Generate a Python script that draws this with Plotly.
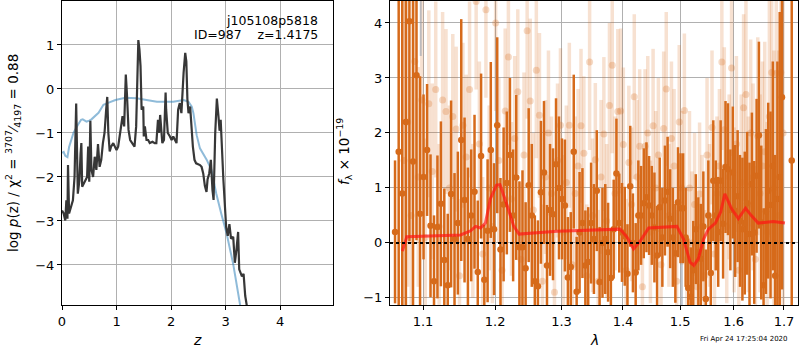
import plotly.graph_objects as go

# ---------------- left panel: p(z) ----------------
pz_z = [0.0, 0.03, 0.06, 0.08, 0.10, 0.11, 0.13, 0.17, 0.20, 0.23, 0.26, 0.29, 0.32, 0.34, 0.355, 0.37,
        0.42, 0.46, 0.48, 0.50, 0.52, 0.54, 0.57, 0.60, 0.63, 0.66, 0.69, 0.72, 0.75, 0.78, 0.81, 0.83,
        0.85, 0.875, 0.90, 0.94, 0.97, 1.00, 1.03, 1.06, 1.09, 1.11, 1.14, 1.16, 1.17, 1.19, 1.22, 1.25,
        1.30, 1.33, 1.36, 1.39, 1.40, 1.42, 1.44, 1.46, 1.49, 1.50, 1.52, 1.55, 1.58, 1.61, 1.66, 1.70,
        1.73, 1.76, 1.78, 1.80, 1.82, 1.84, 1.87, 1.90, 1.91, 1.94, 1.98, 2.01, 2.04, 2.07, 2.10, 2.13,
        2.16, 2.19, 2.21, 2.23, 2.26, 2.28, 2.30, 2.32, 2.35, 2.37, 2.40, 2.43, 2.46, 2.53, 2.56, 2.59,
        2.62, 2.65, 2.67, 2.70, 2.73, 2.76, 2.78, 2.81, 2.84, 2.87, 2.89, 2.91, 2.94, 2.96, 3.01, 3.04,
        3.07, 3.10, 3.14, 3.17, 3.20, 3.23, 3.25, 3.30, 3.33, 3.36, 3.39, 3.42]
pz_logp = [-2.76, -2.83, -2.99, -2.53, -2.95, -1.73, -2.83, -2.68, -2.53, -2.0, -0.33, -2.38, -2.07, -1.48, -1.23, -2.22,
           -2.11, -2.0, -1.31, -2.11, -0.72, -1.84, -2.0, -1.54, -1.84, -1.25, -1.77, -1.61, -1.23, -1.0, -0.47, -0.18,
           -1.0, -1.42, -1.31, -1.23, -1.31, -1.39, -1.31, -1.08, -0.78, -0.62, -0.85, -0.24, 0.33, -0.09, -0.93, -1.16,
           -1.27, -1.31, -0.85, 0.52, 1.11, 0.9, 0.52, -0.47, -0.4, -1.08, -0.85, -1.16, -1.16, -1.23, -1.2, -1.23,
           -1.23, -0.7, -1.0, -0.59, -0.85, -1.23, -1.16, -0.08, -0.47, -1.0, -1.08, -1.16, -1.08, -1.16, -1.23, -0.47,
           -0.32, -0.55, 0.06, 0.37, 0.82, 0.63, -0.24, -0.55, -0.4, -0.85, -1.31, -1.61, -1.69, -1.73, -1.77, -1.92,
           -2.2, -2.34, -2.05, -1.92, -1.61, -2.3, -2.52, -1.0, -0.22, -0.63, -0.95, -0.7, -1.6, -2.07, -3.13, -3.34,
           -3.07, -3.4, -3.36, -3.95, -3.65, -3.25, -4.1, -4.26, -4.2, -4.7, -4.93, -5.3]

prior_z = [0.0, 0.03, 0.06, 0.10, 0.13, 0.21, 0.29, 0.35, 0.38, 0.45, 0.50, 0.54, 0.67, 0.76, 0.88, 0.98,
           1.16, 1.37, 1.55, 1.74, 2.04, 2.23, 2.32, 2.38, 2.41, 2.45, 2.47, 2.53, 2.65, 2.74, 2.83, 2.92,
           3.02, 3.14, 3.26, 3.32]
prior_logp = [-1.45, -1.43, -1.52, -1.55, -1.32, -1.0, -0.82, -0.7, -0.69, -0.74, -0.72, -0.69, -0.54, -0.36, -0.3, -0.25,
              -0.2, -0.21, -0.25, -0.29, -0.29, -0.25, -0.29, -0.4, -0.55, -0.9, -1.05, -1.35, -1.6, -1.84, -2.38, -2.83,
              -3.29, -3.98, -4.85, -5.3]

# ---------------- right panel: spectrum ----------------
dark_wave = [1.0635, 1.0682, 1.0728, 1.0775, 1.0821, 1.0868, 1.0914, 1.0961, 1.1007, 1.1054,
             1.1100, 1.1147, 1.1193, 1.1240, 1.1286, 1.1333, 1.1379, 1.1426, 1.1472, 1.1519,
             1.1565, 1.1612, 1.1658, 1.1705, 1.1751, 1.1798, 1.1844, 1.1891, 1.1937, 1.1984,
             1.2030, 1.2077, 1.2123, 1.2170, 1.2216, 1.2263, 1.2309, 1.2356, 1.2402, 1.2449,
             1.2495, 1.2542, 1.2588, 1.2635, 1.2681, 1.2728, 1.2774, 1.2821, 1.2867, 1.2914,
             1.2960, 1.3007, 1.3053, 1.3100, 1.3146, 1.3193, 1.3239, 1.3286, 1.3332, 1.3379,
             1.3425, 1.3472, 1.3518, 1.3565, 1.3611, 1.3658, 1.3704, 1.3751, 1.3797, 1.3844,
             1.3890, 1.3937, 1.3983, 1.4030, 1.4076, 1.4123, 1.4169, 1.4216, 1.4262, 1.4309,
             1.4355, 1.4402, 1.4448, 1.4495, 1.4541, 1.4588, 1.4634, 1.4681, 1.4727, 1.4774,
             1.4820, 1.4867, 1.4913, 1.4960, 1.5006, 1.5053, 1.5099, 1.5146, 1.5192, 1.5239,
             1.5285, 1.5332, 1.5378, 1.5425, 1.5471, 1.5518, 1.5564, 1.5611, 1.5657, 1.5704,
             1.5750, 1.5797, 1.5843, 1.5890, 1.5936, 1.5983, 1.6029, 1.6076, 1.6122, 1.6169,
             1.6215, 1.6262, 1.6308, 1.6355, 1.6401, 1.6448, 1.6494, 1.6541, 1.6587, 1.6634,
             1.6680, 1.6727, 1.6773, 1.6820, 1.6866, 1.6913, 1.6959, 1.7160]
dark_flux = [0.20, 1.66, 0.90, 2.20, 4.03, 1.48, 3.05, 0.53, 1.20, 1.69,
             0.31, -0.70, 0.29, 0.71, -0.31, -0.77, 0.89, 0.07, 0.36, 1.87,
             0.78, 0.07, 0.50, 0.93, -0.53, 1.58, -0.67, 0.22, 1.69, 0.25,
             2.14, -0.12, 0.70, 1.09, 1.60, 0.50, 1.19, -0.08, -0.08, -0.46,
             1.05, 0.50, -0.70, -0.79, 0.92, 1.28, -0.41, 0.60, 0.52, 1.43,
             1.00, 0.80, 0.68, -0.63, -0.44, 1.66, -0.89, 0.19, 0.36, -0.41,
             -0.35, 0.36, 0.07, 0.95, -0.71, 0.00, 0.07, -0.17, -0.64, 0.25,
             1.26, 0.36, 0.19, 0.12, -0.56, 1.03, 0.00, -0.54, 0.50, 0.50,
             0.72, 0.83, 0.68, 0.50, 0.28, -0.23, 0.65, 0.10, 0.77, 0.93,
             0.44, 0.10, -0.19, 0.74, 0.63, 0.63, 0.10, -0.82, -0.98, -0.50,
             0.25, -0.17, -0.29, 0.30, -1.02, 0.50, -0.55, 1.13, 0.50, 0.20,
             1.13, 0.35, 1.38, 1.34, 0.60, 1.28, 0.58, 0.85, 0.40, 0.25,
             0.36, 0.72, 0.16, 1.07, 0.19, 1.22, 1.96, 0.37, -0.77, 0.57,
             0.95, 0.69, 1.40, -0.60, 0.80, 1.20, 2.65, 1.50]
dark_err = [1.3, 3.5, 3.5, 3.5, 4.0, 3.5, 3.0, 2.5, 1.5, 1.2,
            1.3, 1.2, 1.3, 1.5, 1.3, 1.3, 1.7, 1.2, 1.3, 2.2,
            1.5, 1.3, 1.2, 1.4, 1.3, 1.5, 1.0, 1.3, 1.6, 1.2,
            1.6, 1.3, 1.4, 1.3, 1.4, 1.2, 1.5, 1.2, 1.4, 1.2,
            1.4, 1.3, 1.2, 1.2, 1.3, 1.3, 1.1, 1.2, 1.2, 1.2,
            1.3, 1.1, 1.2, 1.1, 1.0, 1.4, 1.0, 1.1, 1.0, 1.0,
            1.0, 1.1, 1.0, 1.1, 1.0, 1.0, 1.0, 0.9, 0.9, 0.9,
            1.0, 0.9, 0.9, 0.9, 0.9, 1.1, 0.9, 0.9, 1.0, 0.9,
            1.0, 1.0, 0.9, 0.9, 1.0, 0.9, 0.9, 0.9, 1.0, 1.0,
            0.9, 0.9, 0.9, 1.0, 1.0, 1.0, 0.9, 0.9, 0.9, 0.9,
            1.0, 1.0, 1.0, 1.0, 0.9, 1.0, 1.0, 1.1, 1.0, 1.0,
            1.1, 1.0, 1.2, 1.2, 1.1, 1.2, 1.2, 1.2, 1.2, 1.3,
            1.3, 1.3, 1.3, 1.3, 1.3, 1.4, 1.7, 1.4, 1.4, 1.5,
            1.6, 1.7, 1.9, 2.2, 2.5, 3.0, 3.5, 6.0]

light_wave = [1.0751, 1.0798, 1.0844, 1.0891, 1.0937, 1.0984, 1.1030, 1.1077, 1.1123, 1.1170,
              1.1216, 1.1263, 1.1309, 1.1356, 1.1402, 1.1449, 1.1495, 1.1542, 1.1588, 1.1635,
              1.1681, 1.1728, 1.1774, 1.1821, 1.1867, 1.1914, 1.1960, 1.2007, 1.2053, 1.2100,
              1.2146, 1.2193, 1.2239, 1.2286, 1.2332, 1.2379, 1.2425, 1.2472, 1.2518, 1.2565,
              1.2611, 1.2658, 1.2704, 1.2751, 1.2797, 1.2844, 1.2890, 1.2937, 1.2983, 1.3030,
              1.3076, 1.3123, 1.3169, 1.3216, 1.3262, 1.3309, 1.3355, 1.3402, 1.3448, 1.3495,
              1.3541, 1.3588, 1.3634, 1.3681, 1.3727, 1.3774, 1.3820, 1.3867, 1.3913, 1.3960,
              1.4006, 1.4053, 1.4099, 1.4146, 1.4192, 1.4239, 1.4285, 1.4332, 1.4378, 1.4425,
              1.4471, 1.4518, 1.4564, 1.4611, 1.4657, 1.4704, 1.4750, 1.4797, 1.4843, 1.4890,
              1.4936, 1.4983, 1.5029, 1.5076, 1.5122, 1.5169, 1.5215, 1.5262, 1.5308, 1.5355,
              1.5401, 1.5448, 1.5494, 1.5541, 1.5587, 1.5634, 1.5680, 1.5727, 1.5773, 1.5820,
              1.5866, 1.5913, 1.5959, 1.6006, 1.6052, 1.6099, 1.6145, 1.6192, 1.6238, 1.6285,
              1.6331, 1.6378, 1.6424, 1.6471, 1.6517, 1.6564, 1.6610, 1.6657, 1.6703, 1.6750,
              1.6796, 1.6843, 1.6889, 1.6936, 1.6982]
light_flux = [1.50, 2.20, 0.50, 3.30, 1.20, 2.60, 0.10, 2.53, 1.30, 2.79,
              0.30, 2.60, 2.39, 1.00, 2.30, 2.07, -0.60, 2.14, 1.56, 2.79,
              0.40, 4.39, 1.80, -0.20, 4.24, 1.00, 0.30, 4.00, 1.50, -0.50,
              2.40, 3.38, 0.80, 1.90, 2.75, -0.30, 1.60, 3.86, 2.58, 0.60,
              3.14, 2.32, -0.70, 1.20, 2.00, 0.90, -0.90, 1.50, 2.14, 0.20,
              1.10, 2.14, -0.40, 0.90, 1.40, 2.13, 1.63, -0.60, 3.29, 0.50,
              1.51, -0.70, 1.20, 1.98, 0.40, 2.50, 3.23, 0.90, 2.39, 2.40,
              1.79, -0.50, 1.46, 0.70, 2.66, 1.20, 1.76, -0.80, 1.76, 2.00,
              0.20, 2.13, 1.00, 1.60, -0.40, 2.08, 2.80, 0.50, 1.90, 1.40,
              -0.70, 2.20, 1.00, 2.41, -0.30, 1.00, 0.00, 0.70, -0.80, 0.89,
              0.30, -0.60, 1.60, 0.50, 2.10, -0.20, 0.90, 1.40, 3.29, 2.06,
              0.30, 1.20, 3.18, 0.60, 1.80, -0.50, 1.10, 2.46, 2.70, 0.70,
              2.00, 1.20, -0.30, 1.94, 0.90, 1.40, 1.66, 0.20, 2.30, 3.10,
              1.00, 3.08, 0.50, 3.10, 2.00]
light_err = [3.0, 3.0, 2.5, 2.3, 2.0, 2.0, 1.8, 1.7, 1.6, 1.6,
             1.5, 1.6, 1.5, 1.5, 1.5, 1.5, 1.4, 1.5, 1.5, 1.6,
             1.4, 1.6, 1.5, 1.4, 1.6, 1.5, 1.4, 1.6, 1.5, 1.4,
             1.5, 1.6, 1.4, 1.5, 1.5, 1.4, 1.5, 1.6, 1.5, 1.4,
             1.6, 1.5, 1.4, 1.4, 1.5, 1.4, 1.4, 1.4, 1.4, 1.4,
             1.4, 1.5, 1.4, 1.4, 1.4, 1.4, 1.4, 1.3, 1.6, 1.4,
             1.4, 1.3, 1.4, 1.4, 1.4, 1.5, 1.6, 1.4, 1.5, 1.5,
             1.4, 1.3, 1.4, 1.4, 1.5, 1.4, 1.4, 1.3, 1.4, 1.4,
             1.3, 1.4, 1.4, 1.4, 1.3, 1.4, 1.4, 1.3, 1.4, 1.4,
             1.3, 1.4, 1.4, 1.4, 1.3, 1.4, 1.3, 1.3, 1.2, 1.3,
             1.3, 1.2, 1.4, 1.3, 1.4, 1.3, 1.4, 1.4, 1.6, 1.5,
             1.4, 1.5, 1.6, 1.5, 1.6, 1.5, 1.6, 1.7, 1.7, 1.6,
             1.7, 1.7, 1.7, 1.8, 1.8, 1.9, 2.0, 2.0, 2.2, 2.4,
             2.5, 2.7, 3.0, 3.2, 3.5]

mask_wave = [1.097, 1.503]
mask_flux = [4.2, -0.55]
mask_err = [0.8, 0.6]

model_wave = [1.073, 1.0787, 1.151, 1.165, 1.172, 1.179, 1.186, 1.193, 1.202, 1.207, 1.2175, 1.227, 1.235,
              1.293, 1.395, 1.407, 1.418, 1.43, 1.444, 1.494, 1.506, 1.518, 1.525, 1.533, 1.543, 1.552,
              1.565, 1.575, 1.583, 1.596, 1.609, 1.623, 1.634, 1.648, 1.678, 1.702]
model_flux = [-0.15, 0.11, 0.145, 0.22, 0.30, 0.27, 0.36, 0.80, 1.05, 1.06, 0.68, 0.31, 0.16,
              0.21, 0.25, 0.10, -0.11, 0.04, 0.27, 0.30, 0.07, -0.35, -0.41, -0.29, 0.07, 0.25,
              0.36, 0.56, 0.89, 0.62, 0.44, 0.63, 0.50, 0.36, 0.39, 0.36]

xticks_left = [0, 1, 2, 3, 4]
yticks_left = [-4, -3, -2, -1, 0, 1]
xticks_right = [1.1, 1.2, 1.3, 1.4, 1.5, 1.6, 1.7]
yticks_right = [-1, 0, 1, 2, 3, 4]

# ---------------- figure ----------------
FONT = "DejaVu Sans"
W, H = 800, 350
T, B = 1, 45
PH = H - T - B

def px(x):
    return x / W

def py(y):
    return (H - B - y) / PH

ORANGE = "rgb(214,106,26)"
LIGHT = "rgba(214,106,26,0.2)"

fig = go.Figure()

fig.add_trace(go.Scatter(x=prior_z, y=prior_logp, mode="lines",
                         line=dict(color="rgba(31,119,180,0.5)", width=2),
                         xaxis="x", yaxis="y", showlegend=False))
fig.add_trace(go.Scatter(x=pz_z, y=pz_logp, mode="lines",
                         line=dict(color="rgb(55,55,55)", width=2.2),
                         xaxis="x", yaxis="y", showlegend=False))

fig.add_trace(go.Scatter(x=light_wave, y=light_flux, mode="markers",
                         marker=dict(color="rgba(214,106,26,0.25)", size=7, line=dict(width=0)),
                         error_y=dict(type="data", array=light_err, visible=True,
                                      thickness=3.5, width=0, color=LIGHT),
                         xaxis="x2", yaxis="y2", showlegend=False))
fig.add_trace(go.Scatter(x=mask_wave, y=mask_flux, mode="markers",
                         marker=dict(color="rgba(150,160,175,0.0)", size=6),
                         error_y=dict(type="data", array=mask_err, visible=True,
                                      thickness=2, width=0, color="rgba(150,160,175,0.6)"),
                         xaxis="x2", yaxis="y2", showlegend=False))
fig.add_trace(go.Scatter(x=dark_wave, y=dark_flux, mode="markers",
                         marker=dict(color=ORANGE, size=6.5, line=dict(width=0)),
                         error_y=dict(type="data", array=dark_err, visible=True,
                                      thickness=2.5, width=0, color=ORANGE),
                         xaxis="x2", yaxis="y2", showlegend=False))
fig.add_trace(go.Scatter(x=model_wave, y=model_flux, mode="lines",
                         line=dict(color="rgba(255,20,20,0.7)", width=3),
                         xaxis="x2", yaxis="y2", showlegend=False))

axis_common = dict(showline=True, mirror=True, linecolor="black", linewidth=1,
                   showgrid=True, gridcolor="#b0b0b0", gridwidth=1, zeroline=False,
                   ticks="outside", ticklen=4, tickcolor="black", automargin=False,
                   tickfont=dict(family=FONT, size=13, color="black"))

fig.update_layout(
    template="none",
    width=W, height=H, autosize=False,
    margin=dict(l=0, r=0, t=T, b=B, pad=0, autoexpand=False),
    paper_bgcolor="white", plot_bgcolor="white",
    font=dict(family=FONT, size=13, color="black"),
    xaxis=dict(domain=[62 / W, 333 / W], range=[0, 4.97], tickvals=xticks_left,
               anchor="y", **axis_common),
    yaxis=dict(domain=[0, 1], range=[-4.91, 2.0], tickvals=yticks_left,
               anchor="x", **axis_common),
    xaxis2=dict(domain=[390 / W, 798 / W], type="log", range=[0.0241, 0.2378],
                tickvals=xticks_right, ticktext=[str(v) for v in xticks_right],
                anchor="y2", **axis_common),
    yaxis2=dict(domain=[0, 1], range=[-1.13, 4.4], tickvals=yticks_right,
                anchor="x2", **axis_common),
)

fig.add_shape(type="line", xref="x2 domain", yref="y2", x0=0, x1=1, y0=0, y1=0,
              line=dict(color="black", width=2, dash="dot"), layer="above")

ann = [
    dict(text="j105108p5818", x=px(320), y=py(20), xanchor="right", yanchor="middle", size=12.5),
    dict(text="ID=987\u00a0\u00a0\u00a0\u00a0z=1.4175", x=px(320), y=py(35), xanchor="right", yanchor="middle", size=12.5),
    dict(text="<i>z</i>", x=px(197), y=py(340), xanchor="center", yanchor="middle", size=14),
    dict(text="<i>λ</i>", x=px(594), y=py(340), xanchor="center", yanchor="middle", size=14),
    dict(text="Fri Apr 24 17:25:04 2020", x=px(744), y=py(339), xanchor="center", yanchor="middle", size=7),
]
for a in ann:
    fig.add_annotation(text=a["text"], x=a["x"], y=a["y"], xref="paper", yref="paper",
                       xanchor=a["xanchor"], yanchor=a["yanchor"], showarrow=False,
                       font=dict(family=FONT, size=a["size"], color="black"))

fig.add_annotation(text="log <i>p</i>(z) / χ<sup>2</sup> = <sup>3707</sup>⁄<sub>4197</sub> = 0.88",
                   x=px(13), y=py(153), xref="paper", yref="paper", textangle=-90,
                   xanchor="center", yanchor="middle", showarrow=False,
                   font=dict(family=FONT, size=13.5, color="black"))
fig.add_annotation(text="<i>f</i><sub>λ</sub> × 10<sup>−19</sup>",
                   x=px(344), y=py(152), xref="paper", yref="paper", textangle=-90,
                   xanchor="center", yanchor="middle", showarrow=False,
                   font=dict(family=FONT, size=13.5, color="black"))

fig.write_html("out.html", config={"displayModeBar": False},
               post_script="document.body.style.margin='0';document.body.style.overflow='hidden';")
